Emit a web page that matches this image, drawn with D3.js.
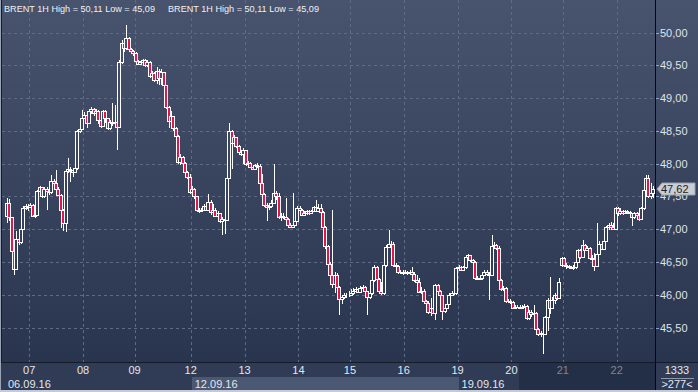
<!DOCTYPE html>
<html>
<head>
<meta charset="utf-8">
<script src="https://cdn.jsdelivr.net/npm/d3@7"></script>
<style>
  body { margin: 0; background: #2e3954; }
  svg { display: block; }
  text { font-family: "Liberation Sans", Arial, sans-serif; }
</style>
</head>
<body>
<div id="chart"></div>
<script>
// hourly BRENT candles, one value per bar (open = previous close unless listed in openGaps)
const closes = [
  47.40,47.18,46.66,46.40,46.85,46.80,47.00,47.32,47.36,47.34,
  47.37,47.20,47.22,47.58,47.64,47.50,47.62,47.58,47.56,47.74,
  47.70,47.62,47.52,47.30,47.10,47.88,47.92,47.90,47.87,47.93,
  48.50,48.53,48.70,48.74,48.62,48.80,48.83,48.77,48.80,48.66,
  48.58,48.80,48.70,48.54,48.64,48.62,48.64,48.56,49.55,49.84,
  49.76,49.92,49.75,49.72,49.68,49.56,49.52,49.55,49.58,49.50,
  49.55,49.33,49.38,49.27,49.42,49.30,49.40,49.20,48.86,48.65,
  48.72,48.55,48.42,48.02,48.10,48.01,47.87,47.80,47.56,47.62,
  47.50,47.30,47.28,47.30,47.35,47.30,47.42,47.26,47.30,47.20,
  47.24,47.12,47.15,47.14,47.78,48.50,48.32,48.40,48.27,48.17,
  48.15,48.20,48.00,48.01,47.95,47.92,47.98,47.97,47.70,47.53,
  47.37,47.34,47.36,47.40,47.55,47.50,47.18,47.20,47.19,47.16,
  47.06,47.04,47.07,47.13,47.32,47.30,47.22,47.25,47.27,47.25,
  47.28,47.34,47.28,47.32,47.26,47.04,46.74,46.47,46.30,46.16,
  46.30,46.12,45.93,45.96,46.00,45.99,46.00,46.02,46.06,46.08,
  46.04,46.10,46.12,46.05,45.96,46.03,46.22,46.42,46.24,46.05,
  46.03,46.45,46.73,46.78,46.77,46.45,46.44,46.34,46.35,46.33,
  46.35,46.33,46.34,46.32,46.22,46.20,46.04,46.06,45.90,45.88,
  45.73,45.80,45.72,46.15,46.05,46.00,45.75,45.80,45.86,46.00,
  46.03,46.02,46.41,46.42,46.38,46.42,46.58,46.60,46.53,46.50,
  46.26,46.24,46.25,46.30,46.35,46.31,46.30,46.74,46.76,46.72,
  46.22,46.08,46.10,45.90,45.91,45.89,45.80,45.81,45.82,45.80,
  45.82,45.83,45.64,45.74,45.70,45.72,45.48,45.40,45.42,45.40,
  45.66,45.92,45.80,45.92,46.00,45.95,46.20,46.56,46.45,46.44,
  46.42,46.41,46.43,46.50,46.68,46.58,46.76,46.68,46.72,46.56,
  46.54,46.44,46.62,46.78,46.70,46.82,47.03,47.06,47.03,47.00,
  47.32,47.24,47.28,47.25,47.28,47.26,47.24,47.18,47.24,47.22,
  47.16,47.32,47.60,47.78,47.50,47.55,47.62
];
const highs = [
  47.48,47.46,47.18,46.66,46.97,46.88,47.02,47.36,47.38,47.38,
  47.40,47.38,47.25,47.60,47.66,47.65,47.64,47.64,47.62,47.83,
  47.76,47.90,47.64,47.53,47.31,47.90,48.09,47.95,47.93,48.00,
  48.52,48.56,48.82,48.78,48.76,48.84,48.86,48.85,48.83,48.82,
  48.68,48.82,48.82,48.70,48.66,48.93,48.90,48.66,49.58,49.88,
  49.86,50.11,49.93,49.77,49.74,49.70,49.58,49.57,49.60,49.60,
  49.58,49.56,49.42,49.40,49.47,49.44,49.45,49.40,49.20,48.88,
  48.80,48.72,48.56,48.44,48.14,48.12,48.02,47.88,47.84,47.66,
  47.63,47.50,47.32,47.33,47.38,47.37,47.54,47.44,47.38,47.32,
  47.27,47.25,47.18,47.26,47.80,48.62,48.52,48.44,48.40,48.29,
  48.19,48.24,48.20,48.04,48.03,47.96,48.00,48.01,48.00,47.84,
  47.55,47.40,47.40,47.44,47.99,47.58,47.55,47.24,47.24,47.48,
  47.17,47.10,47.55,47.16,47.35,47.36,47.31,47.28,47.29,47.30,
  47.30,47.36,47.45,47.38,47.38,47.27,47.05,46.76,46.50,47.29,
  46.34,46.33,46.14,46.00,46.02,46.03,46.05,46.08,46.10,46.12,
  46.10,46.13,46.15,46.14,46.06,46.08,46.25,46.45,46.44,46.26,
  46.20,46.65,46.76,46.98,46.82,46.80,46.48,46.45,46.38,46.37,
  46.38,46.36,46.37,46.42,46.34,46.30,46.25,46.12,46.08,45.92,
  45.90,45.95,45.83,46.17,46.16,46.07,46.00,45.84,45.88,46.02,
  46.05,46.05,46.43,46.45,46.44,46.44,46.60,46.62,46.60,46.55,
  46.52,46.28,46.28,46.34,46.38,46.37,46.34,46.91,46.80,46.78,
  46.74,46.24,46.13,46.12,45.94,45.93,45.91,45.84,45.85,45.84,
  45.85,45.86,45.84,45.77,45.76,45.85,45.73,45.50,45.45,45.44,
  45.68,45.95,46.27,45.96,46.02,46.02,46.25,46.58,46.57,46.48,
  46.46,46.44,46.46,46.52,46.70,46.70,46.84,46.78,46.75,46.73,
  46.60,46.64,47.10,46.82,46.80,46.85,47.05,47.10,47.11,47.10,
  47.34,47.34,47.32,47.30,47.30,47.30,47.27,47.25,47.26,47.26,
  47.27,47.34,47.62,47.83,47.83,47.70,47.66
];
const lows = [
  47.10,47.12,46.62,46.30,46.38,46.76,46.78,46.98,47.30,47.28,
  47.32,47.18,47.17,47.20,47.56,47.47,47.48,47.29,47.52,47.54,
  47.66,47.60,47.50,47.02,46.97,46.96,47.86,47.72,47.80,47.85,
  47.90,48.47,48.52,48.68,48.55,48.60,48.76,48.72,48.74,48.60,
  48.55,48.56,48.62,48.52,48.52,48.58,48.60,48.20,48.54,49.52,
  49.70,49.74,49.72,49.68,49.64,49.52,49.50,49.50,49.53,49.47,
  49.48,49.30,49.30,49.24,49.22,49.20,49.20,49.17,48.84,48.55,
  48.62,48.50,48.40,48.00,47.98,47.98,47.84,47.76,47.54,47.52,
  47.46,47.27,47.25,47.26,47.28,47.27,47.28,47.22,47.22,47.18,
  47.18,47.10,46.91,46.92,47.12,47.76,47.92,48.28,48.24,48.14,
  48.12,47.99,47.97,47.96,47.93,47.90,47.90,47.94,47.66,47.50,
  47.34,47.12,47.30,47.32,47.38,47.45,47.15,47.12,47.16,47.14,
  47.03,47.02,47.03,47.06,47.12,47.24,47.20,47.20,47.22,47.22,
  47.24,47.26,47.26,47.27,47.14,47.00,46.70,46.44,46.26,46.10,
  46.03,46.10,45.69,45.86,45.94,45.95,45.97,45.98,46.00,46.03,
  46.02,46.03,46.06,46.02,45.69,45.94,46.00,46.20,46.22,46.02,
  46.00,46.00,46.42,46.72,46.74,46.43,46.40,46.31,46.31,46.30,
  46.31,46.30,46.31,46.30,46.20,46.17,46.02,46.01,45.88,45.85,
  45.70,45.68,45.70,45.62,46.02,45.97,45.62,45.72,45.78,45.85,
  45.98,45.99,46.00,46.38,46.36,46.37,46.40,46.55,46.50,46.48,
  46.23,46.22,46.22,46.23,46.28,46.28,45.92,46.29,46.70,46.68,
  46.20,46.05,46.06,45.88,45.88,45.86,45.78,45.78,45.79,45.78,
  45.79,45.80,45.61,45.62,45.66,45.68,45.45,45.37,45.36,45.09,
  45.38,45.45,45.70,45.78,45.86,45.92,45.94,46.42,46.42,46.40,
  46.40,46.39,46.38,46.40,46.48,46.54,46.56,46.66,46.66,46.54,
  46.46,46.36,46.42,46.60,46.68,46.70,46.82,46.98,47.00,46.98,
  46.99,47.20,47.22,47.22,47.24,47.23,47.20,47.05,47.16,47.18,
  47.12,47.14,47.30,47.55,47.47,47.46,47.48
];
const openGaps = [[0, 47.20], [237, 46.45]];

const priceTicks = [45.5, 46.0, 46.5, 47.0, 47.5, 48.0, 48.5, 49.0, 49.5, 50.0];
const dayLabels = ["07", "08", "09", "12", "13", "14", "15", "16", "19", "20", "21", "22"];
const dayStarts = [10, 33, 55, 79, 102, 125, 147, 170, 193, 216, 238, 261];
const weekLabels = ["06.09.16", "12.09.16", "19.09.16"];
const weekStarts = [0, 79, 193];
const titleText = "BRENT 1H High = 50,11 Low = 45,09";
const lastPrice = 47.62;
const barCount = "1333";
const visibleBars = ">277<";

const W = 698, H = 392;
const plotR = 655, plotB = 362;
const fmt = v => d3.format(".2f")(v).replace(".", ",");

const svg = d3.select("#chart").append("svg")
  .attr("width", W)
  .attr("height", H);

// background gradient, also used to fill the hollow (rising) candles
const grad = svg.append("defs").append("linearGradient")
  .attr("id", "bg")
  .attr("gradientUnits", "userSpaceOnUse")
  .attr("x1", 0).attr("y1", 0).attr("x2", 0).attr("y2", plotB);
grad.append("stop").attr("offset", 0).attr("stop-color", "#48536d");
grad.append("stop").attr("offset", 1).attr("stop-color", "#29344f");

svg.append("rect")
  .attr("width", W).attr("height", plotB)
  .attr("fill", "url(#bg)");

var x = d3.scaleLinear()
  .domain([0, closes.length - 1])
  .range([7, 653]);
var y = d3.scaleLinear()
  .domain([45.5, 50])
  .range([327.5, 32.5]);

// grid
svg.append("g").selectAll("line")
  .data(priceTicks)
  .join("line")
  .attr("x1", 2).attr("x2", plotR)
  .attr("y1", d => Math.round(y(d)) + 0.5)
  .attr("y2", d => Math.round(y(d)) + 0.5)
  .attr("stroke", "#5f6a86")
  .attr("stroke-dasharray", "3,3");
svg.append("g").selectAll("line")
  .data(dayStarts)
  .join("line")
  .attr("x1", d => Math.round(x(d - 0.5)) + 0.5)
  .attr("x2", d => Math.round(x(d - 0.5)) + 0.5)
  .attr("y1", 0).attr("y2", plotB)
  .attr("stroke", "#5f6a86")
  .attr("stroke-dasharray", "3,3");

// candles
const opens = closes.map((c, i) => i === 0 ? c : closes[i - 1]);
openGaps.forEach(([i, v]) => { opens[i] = v; });
const candles = closes.map((c, i) => ({
  i: i,
  o: opens[i],
  c: c,
  h: Math.max(highs[i], opens[i], c),
  l: Math.min(lows[i], opens[i], c)
}));

const cg = svg.append("g").selectAll("g")
  .data(candles)
  .join("g");
cg.append("line")
  .attr("x1", d => Math.round(x(d.i)) + 0.5)
  .attr("x2", d => Math.round(x(d.i)) + 0.5)
  .attr("y1", d => Math.round(y(d.h)))
  .attr("y2", d => Math.round(y(d.l)))
  .attr("stroke", "#fff");
cg.append("rect")
  .attr("x", d => Math.round(x(d.i)) - 1.5)
  .attr("width", 3)
  .attr("y", d => Math.round(y(Math.max(d.o, d.c))) + 0.5)
  .attr("height", d => Math.max(0, Math.round(y(Math.min(d.o, d.c))) - Math.round(y(Math.max(d.o, d.c)))))
  .attr("fill", d => d.c < d.o ? "#e3164a" : "url(#bg)")
  .attr("stroke", "#fff");

// title (two copies, as in the source terminal)
[4, 168].forEach(tx => {
  svg.append("text")
    .attr("x", tx).attr("y", 12)
    .attr("font-size", "9.6px")
    .attr("fill", "#eef1f6")
    .attr("textLength", 151)
    .attr("lengthAdjust", "spacingAndGlyphs")
    .text(titleText);
});

// right price axis
svg.append("rect")
  .attr("x", plotR).attr("y", 0)
  .attr("width", W - plotR).attr("height", plotB)
  .attr("fill", "url(#bg)");
const ya = svg.append("g");
ya.selectAll("line")
  .data(priceTicks)
  .join("line")
  .attr("x1", plotR + 1).attr("x2", plotR + 4)
  .attr("y1", d => Math.round(y(d)) + 0.5)
  .attr("y2", d => Math.round(y(d)) + 0.5)
  .attr("stroke", "#8ea2c8");
ya.selectAll("text")
  .data(priceTicks)
  .join("text")
  .attr("x", 660)
  .attr("y", d => y(d) + 4)
  .attr("font-size", "11px")
  .attr("fill", "#dfe3ea")
  .text(fmt);

// last price marker
const ly = Math.round(y(lastPrice));
svg.append("path")
  .attr("d", `M${plotR + 2},${ly} L${plotR + 7},${ly - 6} H695 V${ly + 6} H${plotR + 7} Z`)
  .attr("fill", "#c9cdd5")
  .attr("stroke", "#9aa0ab");
svg.append("text")
  .attr("x", 661).attr("y", ly + 4)
  .attr("font-size", "11px")
  .attr("fill", "#1c1f26")
  .text(fmt(lastPrice));

// bottom time axis panel
svg.append("rect")
  .attr("x", 0).attr("y", plotB)
  .attr("width", W).attr("height", H - plotB)
  .attr("fill", "#303b56");
svg.append("rect")
  .attr("x", Math.round(x(weekStarts[1] - 0.5)) + 1).attr("y", 377)
  .attr("width", Math.round(x(weekStarts[2] - 0.5)) - Math.round(x(weekStarts[1] - 0.5)))
  .attr("height", 13)
  .attr("fill", "#4b5873");
svg.append("rect")
  .attr("x", 519).attr("y", plotB + 1)
  .attr("width", plotR - 519).attr("height", 27)
  .attr("fill", "#232e47");
svg.append("line")
  .attr("x1", 0).attr("x2", W)
  .attr("y1", plotB + 0.5).attr("y2", plotB + 0.5)
  .attr("stroke", "#141b2b");

svg.append("g").selectAll("text")
  .data(dayStarts)
  .join("text")
  .attr("x", d => x(d - 0.5))
  .attr("y", 374)
  .attr("text-anchor", "middle")
  .attr("font-size", "11px")
  .attr("fill", d => x(d - 0.5) > 519 ? "#7d879b" : "#e3e7ee")
  .text((d, i) => dayLabels[i]);
svg.append("g").selectAll("text")
  .data(weekStarts)
  .join("text")
  .attr("x", d => d === 0 ? 8 : x(d - 0.5) + 4)
  .attr("y", 388)
  .attr("font-size", "11px")
  .attr("fill", "#e3e7ee")
  .text((d, i) => weekLabels[i]);

// bottom right info box
svg.append("text")
  .attr("x", 677).attr("y", 374)
  .attr("text-anchor", "middle")
  .attr("font-size", "11px")
  .attr("fill", "#e3e7ee")
  .text(barCount);
svg.append("line")
  .attr("x1", 661).attr("x2", 694)
  .attr("y1", 378.5).attr("y2", 378.5)
  .attr("stroke", "#8e97a8");
svg.append("text")
  .attr("x", 677).attr("y", 388)
  .attr("text-anchor", "middle")
  .attr("font-size", "11px")
  .attr("fill", "#e3e7ee")
  .text(visibleBars);

// frame lines
svg.append("line")
  .attr("x1", plotR + 0.5).attr("x2", plotR + 0.5)
  .attr("y1", 0).attr("y2", H)
  .attr("stroke", "#05070c");
svg.append("line")
  .attr("x1", 0.5).attr("x2", 0.5)
  .attr("y1", 0).attr("y2", H)
  .attr("stroke", "#9aa3b5");
svg.append("line")
  .attr("x1", 1.5).attr("x2", 1.5)
  .attr("y1", 0).attr("y2", plotB)
  .attr("stroke", "#151b2a");
svg.append("rect")
  .attr("x", 0).attr("y", 390)
  .attr("width", W).attr("height", 2)
  .attr("fill", "#c5cbd6");
</script>
</body>
</html>
